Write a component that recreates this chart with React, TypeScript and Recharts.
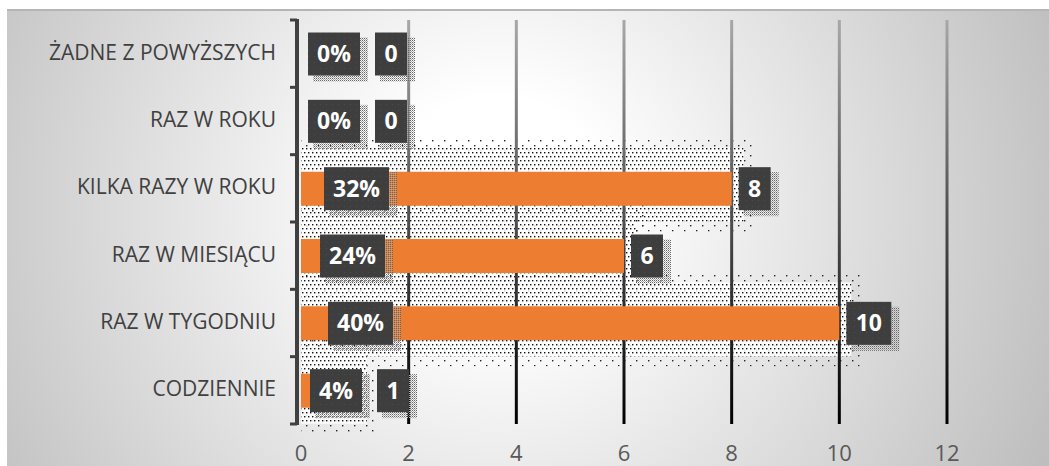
import { Bar, BarChart, CartesianGrid, LabelList, XAxis, YAxis } from "recharts"

const categories = [
  "ŻADNE Z POWYŻSZYCH",
  "RAZ W ROKU",
  "KILKA RAZY W ROKU",
  "RAZ W MIESIĄCU",
  "RAZ W TYGODNIU",
  "CODZIENNIE",
]
const counts = [0, 0, 8, 6, 10, 1]
const percents = ["0%", "0%", "32%", "24%", "40%", "4%"]
const xTicks = [0, 2, 4, 6, 8, 10, 12]

const data = categories.map((name, i) => ({ name, count: counts[i], pct: percents[i] }))

const W = 1049
const H = 466
const PLOT_LEFT = 301
const PLOT_RIGHT = 947
const PLOT_TOP = 20
const PLOT_BOTTOM = 424
const BAND = (PLOT_BOTTOM - PLOT_TOP) / categories.length
const UNIT = (PLOT_RIGHT - PLOT_LEFT) / 12
const FONT = "'Open Sans', sans-serif"

// rough text widths for the label boxes (bold 23px)
const boxWidth = (s: string) => {
  let w = 19
  for (const ch of s) w += ch === "%" ? 20 : 13
  return w
}

const CategoryTick = (props: any) => {
  const { y, payload } = props
  const top = y - BAND / 2
  const last = payload.value === categories[categories.length - 1]
  return (
    <g>
      <text x={276} y={y} dy={6} textAnchor="end" fontSize={21} fill="#404040" fontFamily={FONT}>
        {payload.value}
      </text>
      <line x1={297} x2={297} y1={top - 1} y2={top + BAND + 1} stroke="#404040" strokeWidth={4} />
      <line x1={290} x2={297} y1={top} y2={top} stroke="#404040" strokeWidth={3} />
      {last && <line x1={290} x2={297} y1={top + BAND} y2={top + BAND} stroke="#404040" strokeWidth={3} />}
    </g>
  )
}

const ValueTick = (props: any) => (
  <text x={props.x} y={461} textAnchor="middle" fontSize={22} fill="#595959" fontFamily={FONT}>
    {props.payload.value}
  </text>
)

const gridLine = (p: any) => {
  if (p.x1 < PLOT_LEFT + 4) return <g key={`g-${p.index}`} />
  return (
    <line
      key={`g-${p.index}`}
      x1={p.x1}
      x2={p.x2}
      y1={p.y1}
      y2={p.y2}
      stroke="url(#gridFade)"
      strokeWidth={3}
    />
  )
}

const BarShadow = (p: any) => {
  const { x, y, width, height } = p
  if (!width || width < 1) return <g />
  return (
    <g>
      <rect x={x} y={y - 34} width={width + 22} height={height + 60} fill="url(#dotsSparse)" />
      <rect x={x} y={y - 24} width={width + 12} height={height + 40} fill="#fff" fillOpacity={0.85} />
      <rect x={x} y={y - 24} width={width + 12} height={height + 40} fill="url(#dotsDense)" />
    </g>
  )
}

const LabelBox = ({ left, cy, text }: { left: number; cy: number; text: string }) => {
  const w = boxWidth(text)
  const h = 43
  return (
    <g>
      <rect x={left + 5} y={cy - h / 2 + 5} width={w + 3} height={h + 1} fill="url(#boxShadow)" />
      <rect x={left} y={cy - h / 2} width={w} height={h} fill="url(#boxTex)" />
      <text
        x={left + w / 2}
        y={cy}
        dy={8}
        textAnchor="middle"
        fontSize={23}
        fontWeight={700}
        fill="#fff"
        fontFamily={FONT}
      >
        {text}
      </text>
    </g>
  )
}

const renderLabels = (p: any) => {
  const vb = p.viewBox || {}
  const x = Number(p.x ?? vb.x)
  const y = Number(p.y ?? vb.y)
  let width = Number(p.width ?? vb.width) || 0
  if (width < 1) width = 0
  const height = Number(p.height ?? vb.height) || 0
  const cy = y + height / 2
  let idx = Math.round((cy - PLOT_TOP - BAND / 2) / BAND)
  idx = Math.max(0, Math.min(categories.length - 1, idx))
  const value = counts[idx]
  const pct = percents[idx]
  const pctLeft = x + 7 + 2 * (width / UNIT)
  const pctRight = pctLeft + boxWidth(pct)
  const valLeft = Math.max(x + width + 7, pctRight + 15)
  return (
    <g key={`lb-${idx}`}>
      <LabelBox left={pctLeft} cy={cy} text={pct} />
      <LabelBox left={valLeft} cy={cy} text={String(value)} />
    </g>
  )
}

export default function App() {
  return (
    <div style={{ position: "absolute", left: 0, top: 0, width: W, height: H, background: "#fff", overflow: "hidden" }}>
      <svg width={0} height={0} style={{ position: "absolute" }}>
        <defs>
          <linearGradient id="gridFade" gradientUnits="userSpaceOnUse" x1={0} y1={PLOT_TOP} x2={0} y2={PLOT_BOTTOM}>
            <stop offset="0%" stopColor="#a8a8a8" />
            <stop offset="45%" stopColor="#555" />
            <stop offset="100%" stopColor="#000" />
          </linearGradient>
          <pattern id="dotsDense" width={8} height={8} patternUnits="userSpaceOnUse">
            <rect x={0} y={0} width={1.4} height={1.4} fill="#111" />
            <rect x={4} y={0} width={1.4} height={1.4} fill="#111" />
            <rect x={2} y={4} width={1.4} height={1.4} fill="#111" />
            <rect x={6} y={4} width={1.4} height={1.4} fill="#111" />
          </pattern>
          <pattern id="dotsSparse" width={12} height={10} patternUnits="userSpaceOnUse">
            <rect x={0} y={0} width={1.4} height={1.4} fill="#222" />
            <rect x={6} y={5} width={1.4} height={1.4} fill="#222" />
          </pattern>
          <pattern id="boxShadow" width={2} height={2} patternUnits="userSpaceOnUse">
            <rect x={0} y={0} width={1} height={1} fill="#666" />
            <rect x={1} y={1} width={1} height={1} fill="#aaa" />
          </pattern>
          <pattern id="boxTex" width={6} height={6} patternUnits="userSpaceOnUse">
            <rect x={0} y={0} width={6} height={6} fill="#3e3e3e" />
            <rect x={2} y={2} width={1} height={1} fill="#4c4c4c" />
          </pattern>
        </defs>
      </svg>
      <div
        style={{
          position: "absolute",
          left: 7,
          top: 9,
          width: W - 7,
          height: H - 9,
          boxSizing: "border-box",
          borderTop: "2px solid #b5b5b5",
          background: "radial-gradient(circle farthest-corner at 47% 43%, #ffffff 0%, #ffffff 18%, #bdbdbd 100%)",
        }}
      />
      <div style={{ position: "absolute", left: 0, top: 0 }}>
        <BarChart
          width={W}
          height={H}
          data={data}
          layout="vertical"
          barSize={34}
          margin={{ top: PLOT_TOP, right: W - PLOT_RIGHT, bottom: H - PLOT_BOTTOM, left: PLOT_LEFT }}
        >
          <XAxis type="number" domain={[0, 12]} ticks={xTicks} hide />
          <YAxis type="category" dataKey="name" hide />
          <Bar dataKey="count" shape={(p: any) => <BarShadow {...p} />} isAnimationActive={false} />
        </BarChart>
      </div>
      <div style={{ position: "absolute", left: 0, top: 0 }}>
        <BarChart
          width={W}
          height={H}
          data={data}
          layout="vertical"
          barSize={34}
          margin={{ top: PLOT_TOP, right: W - PLOT_RIGHT, bottom: 0, left: 0 }}
        >
          <CartesianGrid horizontal={false} vertical={gridLine} />
          <XAxis
            type="number"
            domain={[0, 12]}
            ticks={xTicks}
            interval={0}
            height={H - PLOT_BOTTOM}
            axisLine={false}
            tickLine={false}
            tick={<ValueTick />}
          />
          <YAxis
            type="category"
            dataKey="name"
            width={PLOT_LEFT}
            interval={0}
            axisLine={false}
            tickLine={false}
            tick={<CategoryTick />}
          />
          <Bar dataKey="count" fill="#ED7D31" minPointSize={0.01} isAnimationActive={false}>
            <LabelList dataKey="count" content={renderLabels} />
          </Bar>
        </BarChart>
      </div>
    </div>
  )
}
